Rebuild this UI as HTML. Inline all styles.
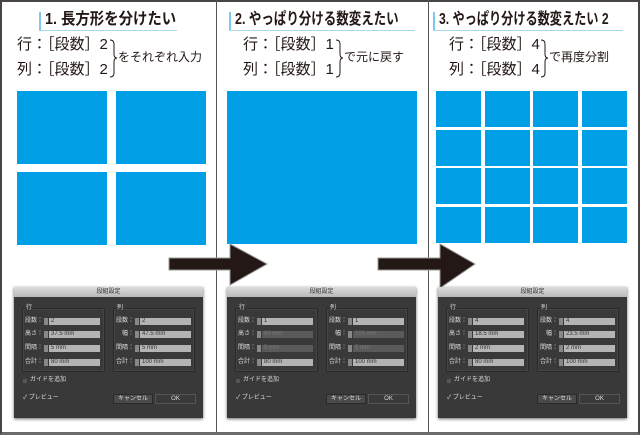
<!DOCTYPE html>
<html><head><meta charset="utf-8"><style>
*{margin:0;padding:0;box-sizing:border-box}
body{width:640px;height:435px;background:#fff;position:relative;overflow:hidden;font-family:"Liberation Sans","Noto Sans CJK JP",sans-serif}
.a{position:absolute}
.frame{left:0;top:0;width:640px;height:435px;border:2px solid #4a4545;border-bottom:3px solid #6a6a6a}
.div{width:1px;background:#555;top:0;height:432px}
.b{background:#009fe6}
.h{font-weight:bold;font-size:16px;color:#231815;white-space:nowrap;line-height:18px;transform-origin:left}
.bar{width:2px;height:18px;background:#7fc8ec}
.ul{height:1px;background:#a8d8f0}
.t{font-size:15px;color:#231815;white-space:nowrap;line-height:18px}
.s{font-size:12px;color:#231815;white-space:nowrap;line-height:16px}
.dlg{width:189px;height:131px;background:#393939;box-shadow:0 1px 3px rgba(0,0,0,.6);font-size:6px;color:#ddd;line-height:7px}
.tb{left:0;top:0;width:189px;height:10px;background:linear-gradient(#dcdcdc,#b8b8b8);color:#333;text-align:center;font-size:6px;line-height:10px}
.grp{border:1px solid #2a2a2a;box-shadow:inset 0 0 0 1px #444}
.fld{height:7px;background:#b4b4b4;color:#333;padding-left:2px;font-size:6px;line-height:7px}
.fld.dim{background:#5a5a5a;color:#777}
.sp{width:4px;height:7px;background:#888}
.btn{height:10px;background:#4a4a4a;border:1px solid #2a2a2a;text-align:center;line-height:8px;font-size:6px;color:#ddd}
</style></head><body>
<div class="a frame"></div>
<div class="a div" style="left:216px"></div>
<div class="a div" style="left:428px"></div>

<!-- headers -->
<div class="a bar" style="left:39px;top:12px"></div>
<div class="a h" style="left:45px;top:11px;transform:scaleX(.9)">1. 長方形を分けたい</div>
<div class="a ul" style="left:39px;top:30px;width:138px"></div>
<div class="a bar" style="left:229px;top:12px"></div>
<div class="a h" style="left:235px;top:11px;transform:scaleX(.78)">2. やっぱり分ける数変えたい</div>
<div class="a ul" style="left:229px;top:30px;width:186px"></div>
<div class="a bar" style="left:433px;top:12px"></div>
<div class="a h" style="left:439px;top:11px;transform:scaleX(.76)">3. やっぱり分ける数変えたい 2</div>
<div class="a ul" style="left:433px;top:30px;width:190px"></div>

<div class="a t" style="left:17px;top:36px">行：［段数］2</div>
<div class="a t" style="left:17px;top:61px">列：［段数］2</div>
<div class="a s" style="left:118px;top:49px">をそれぞれ入力</div>

<div class="a t" style="left:243px;top:36px">行：［段数］1</div>
<div class="a t" style="left:243px;top:61px">列：［段数］1</div>
<div class="a s" style="left:344px;top:49px">で元に戻す</div>

<div class="a t" style="left:449px;top:36px">行：［段数］4</div>
<div class="a t" style="left:449px;top:61px">列：［段数］4</div>
<div class="a s" style="left:549px;top:49px">で再度分割</div>

<!-- rects -->
<div class="a b" style="left:17px;top:91px;width:90px;height:73px"></div>
<div class="a b" style="left:116px;top:91px;width:90px;height:73px"></div>
<div class="a b" style="left:17px;top:172px;width:90px;height:73px"></div>
<div class="a b" style="left:116px;top:172px;width:90px;height:73px"></div>
<div class="a b" style="left:227px;top:91px;width:190px;height:153px"></div>
<div id="g"></div>

<!-- arrows & braces -->
<svg class="a" style="left:0;top:0" width="640" height="435">
<g fill="none" stroke="#231815" stroke-width="1">
<path d="M110,40 Q114,40 114,44 L114,54 Q114,58 117,58 Q114,58 114,62 L114,73 Q114,77 110,77"/>
<path d="M336,40 Q340,40 340,44 L340,54 Q340,58 343,58 Q340,58 340,62 L340,73 Q340,77 336,77"/>
<path d="M541,40 Q545,40 545,44 L545,54 Q545,58 548,58 Q545,58 545,62 L545,73 Q545,77 541,77"/>
</g>
<polygon points="169,258 230,258 230,244 267,264 230,285 230,270 169,270" fill="#231815" stroke="#999" stroke-width="1"/>
<polygon points="378,258 440,258 440,244 475,264 440,288 440,270 378,270" fill="#231815" stroke="#999" stroke-width="1"/>
</svg>
<div id="d"></div>
<script>
var g='',xs=[436,485,533,582],ys=[91,130,168,207];
ys.forEach(function(y){xs.forEach(function(x){g+='<div class="a b" style="left:'+x+'px;top:'+y+'px;width:45px;height:36px"></div>';});});
document.getElementById('g').outerHTML=g;
function dlg(x,vals,dim){
 var h='<div class="a dlg" style="left:'+x+'px;top:287px"><div class="a tb">段組設定</div>';
 h+='<div class="a grp" style="left:8px;top:21px;width:83px;height:64px"></div><div class="a" style="left:11px;top:18px;background:#393939;padding:0 1px">行</div>';
 h+='<div class="a grp" style="left:99px;top:21px;width:82px;height:64px"></div><div class="a" style="left:102px;top:18px;background:#393939;padding:0 1px">列</div>';
 var L1=['段数：','高さ：','間隔：','合計：'],L2=['段数：','幅：','間隔：','合計：'],ry=[31,44,58,72];
 for(var i=0;i<4;i++){
  var d=dim&&(i==1||i==2)?' dim':'';
  h+='<div class="a" style="left:10px;top:'+ry[i]+'px;width:19px;text-align:right">'+L1[i]+'</div><div class="a sp" style="left:30px;top:'+ry[i]+'px"></div><div class="a fld'+d+'" style="left:35px;top:'+ry[i]+'px;width:51px">'+vals[0][i]+'</div>';
  h+='<div class="a" style="left:100px;top:'+ry[i]+'px;width:20px;text-align:right">'+L2[i]+'</div><div class="a sp" style="left:121px;top:'+ry[i]+'px"></div><div class="a fld'+d+'" style="left:126px;top:'+ry[i]+'px;width:51px">'+vals[1][i]+'</div>';
 }
 h+='<div class="a" style="left:9px;top:92px;width:4px;height:4px;background:#555"></div><div class="a" style="left:16px;top:90px">ガイドを追加</div>';
 h+='<div class="a" style="left:9px;top:108px">✓ プレビュー</div>';
 h+='<div class="a btn" style="left:99px;top:107px;width:40px">キャンセル</div><div class="a btn" style="left:141px;top:107px;width:41px;background:#3a3a3a;border-color:#555">OK</div></div>';
 return h;
}
document.getElementById('d').outerHTML=
 dlg(14,[['2','37.5 mm','5 mm','80 mm'],['2','47.5 mm','5 mm','100 mm']],false)+
 dlg(227,[['1','80 mm','5 mm','80 mm'],['1','100 mm','5 mm','100 mm']],true)+
 dlg(438,[['4','18.5 mm','2 mm','80 mm'],['4','23.5 mm','2 mm','100 mm']],false);
</script>
</body></html>
